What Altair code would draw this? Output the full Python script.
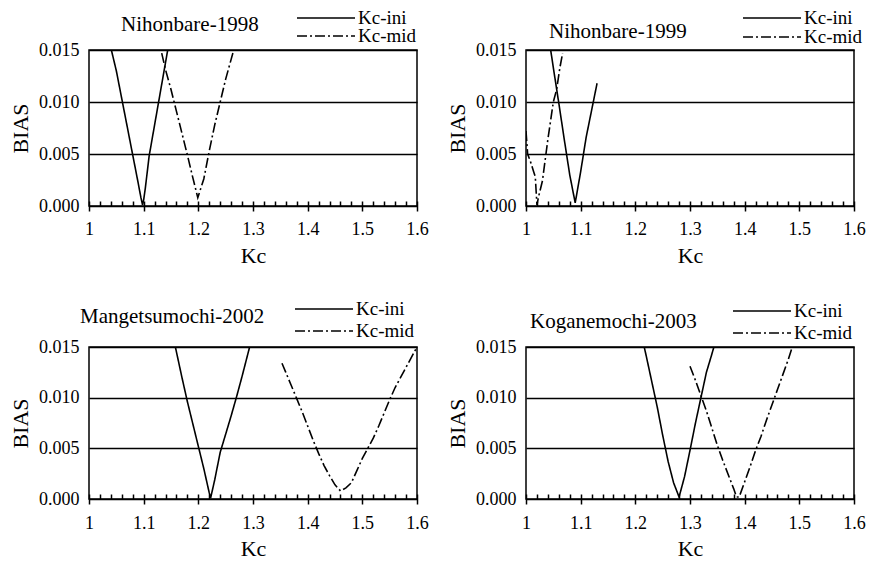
import altair as alt
import pandas as pd

FONT = "Liberation Serif"
W = 328

# ---- axis structure ----
x_label_values = [1.0, 1.1, 1.2, 1.3, 1.4, 1.5, 1.6]
minor_ticks = [1.02, 1.04, 1.06, 1.08, 1.12, 1.14, 1.16, 1.18, 1.22, 1.24, 1.26, 1.28,
               1.32, 1.34, 1.36, 1.38, 1.42, 1.44, 1.46, 1.48, 1.52, 1.54, 1.56, 1.58]
x_tick_values = sorted(x_label_values + minor_ticks)
y_tick_values = [0.0, 0.005, 0.010, 0.015]

series = ["Kc-ini", "Kc-mid"]
dashes = [[1, 0], [10, 3, 2, 3]]
titles = ["Nihonbare-1998", "Nihonbare-1999", "Mangetsumochi-2002", "Koganemochi-2003"]

# ---- Nihonbare-1998 ----
ini_1998_kc = [1.03, 1.04, 1.05, 1.06, 1.07, 1.08, 1.09, 1.095, 1.098, 1.10, 1.103, 1.11, 1.12, 1.13, 1.14, 1.15]
ini_1998_bias = [0.0172, 0.0152, 0.0130, 0.0103, 0.0076, 0.0049, 0.0022, 0.0008, 0.0001, 0.0006, 0.0017, 0.0048, 0.0078, 0.0108, 0.0138, 0.0168]
mid_1998_kc = [1.133, 1.14, 1.15, 1.16, 1.17, 1.18, 1.19, 1.199, 1.21, 1.22, 1.23, 1.24, 1.25, 1.26, 1.27]
mid_1998_bias = [0.0147, 0.0131, 0.0112, 0.0091, 0.0070, 0.0049, 0.0027, 0.0008, 0.0026, 0.0053, 0.0078, 0.0100, 0.0122, 0.0141, 0.0160]

# ---- Nihonbare-1999 ----
ini_1999_kc = [1.04, 1.05, 1.06, 1.07, 1.08, 1.09, 1.10, 1.11, 1.12, 1.13]
ini_1999_bias = [0.0168, 0.0133, 0.0099, 0.0064, 0.0030, 0.0003, 0.0033, 0.0066, 0.0092, 0.0118]
mid_1999_kc = [1.0, 1.003, 1.008, 1.014, 1.017, 1.02, 1.023, 1.03, 1.04, 1.05, 1.056, 1.062, 1.067]
mid_1999_bias = [0.0072, 0.0050, 0.0043, 0.0033, 0.0028, 0.0001, 0.0009, 0.0024, 0.0064, 0.0100, 0.0112, 0.0133, 0.0147]

# ---- Mangetsumochi-2002 ----
ini_2002_kc = [1.15, 1.16, 1.17, 1.18, 1.19, 1.20, 1.21, 1.22, 1.2225, 1.23, 1.24, 1.25, 1.26, 1.27, 1.28, 1.29, 1.30]
ini_2002_bias = [0.0170, 0.0145, 0.0120, 0.0096, 0.0074, 0.0052, 0.0030, 0.0006, 0.0001, 0.0019, 0.0046, 0.0064, 0.0082, 0.0101, 0.0121, 0.0142, 0.0163]
mid_2002_kc = [1.353, 1.36, 1.37, 1.38, 1.39, 1.40, 1.41, 1.42, 1.43, 1.44, 1.45, 1.46, 1.47, 1.48, 1.49,
               1.50, 1.51, 1.52, 1.53, 1.54, 1.55, 1.56, 1.57, 1.58, 1.59, 1.60]
mid_2002_bias = [0.0134, 0.0125, 0.0112, 0.0099, 0.0086, 0.0072, 0.0058, 0.0045, 0.0033, 0.0023, 0.0014, 0.0008, 0.0011, 0.0016, 0.0028,
                 0.0040, 0.0050, 0.0060, 0.0072, 0.0085, 0.0098, 0.0110, 0.0120, 0.0130, 0.0140, 0.0150]

# ---- Koganemochi-2003 ----
ini_2003_kc = [1.21, 1.22, 1.23, 1.24, 1.25, 1.26, 1.27, 1.28, 1.29, 1.30, 1.31, 1.32, 1.33, 1.34, 1.35]
ini_2003_bias = [0.0165, 0.0141, 0.0116, 0.0091, 0.0063, 0.0037, 0.0016, 0.0002, 0.0022, 0.0048, 0.0075, 0.0100, 0.0125, 0.0143, 0.0162]
mid_2003_kc = [1.30, 1.31, 1.32, 1.33, 1.34, 1.35, 1.36, 1.37, 1.38, 1.385, 1.39, 1.40, 1.41, 1.42,
               1.43, 1.44, 1.45, 1.46, 1.47, 1.48, 1.49]
mid_2003_bias = [0.0131, 0.0117, 0.0102, 0.0087, 0.0070, 0.0053, 0.0038, 0.0024, 0.0010, 0.0002, 0.0002, 0.0017, 0.0032, 0.0048,
                 0.0062, 0.0078, 0.0093, 0.0108, 0.0123, 0.0138, 0.0155]

IS_MAJOR = "round(datum.value * 100) % 10 == 0"


def panel(title, ini_kc, ini_bias, mid_kc, mid_bias, H, title_dx, title_dy,
          leg_x, leg_rows, label_pad, title_pad):
    df = pd.DataFrame({
        "Kc": ini_kc + mid_kc,
        "BIAS": ini_bias + mid_bias,
        "series": [series[0]] * len(ini_kc) + [series[1]] * len(mid_kc),
    })
    xs = alt.Scale(domain=[1.0, 1.6], nice=False, zero=False)
    ys = alt.Scale(domain=[0.0, 0.015], nice=False, zero=True)

    # the Kc axis is pulled 5px into the plot, so its ticks point inward from the frame
    x_axis = alt.Axis(
        values=x_tick_values, title="Kc", grid=False, domain=False, offset=-5,
        ticks=True, tickColor="black", tickWidth=1.5,
        tickSize=alt.condition(IS_MAJOR, alt.value(10), alt.value(5)),
        labelExpr=f"({IS_MAJOR}) ? format(datum.value, '~g') : ''",
        labelPadding=label_pad, titlePadding=title_pad, labelFlush=False,
    )

    lines = alt.Chart(df).mark_line(clip=True, color="black", strokeWidth=1.6).encode(
        x=alt.X("Kc:Q", scale=xs, axis=x_axis),
        y=alt.Y("BIAS:Q", scale=ys,
                axis=alt.Axis(values=y_tick_values, format=".3f", title="BIAS", grid=True,
                              gridColor="black", gridWidth=1.5, gridOpacity=1,
                              ticks=False, domain=False, labelPadding=10, titlePadding=6)),
        strokeDash=alt.StrokeDash(
            "series:N",
            scale=alt.Scale(domain=series, range=dashes),
            legend=None,
        ),
    )

    # panel title
    title_layer = alt.Chart(pd.DataFrame({"t": [title]})).mark_text(
        font=FONT, fontSize=21, color="black", align="left", baseline="middle").encode(
        x=alt.value(title_dx), y=alt.value(title_dy), text="t:N")

    # legend key: a short line sample and its label for each series
    legend_layers = []
    for i, name in enumerate(series):
        ly = leg_rows[i]
        one = pd.DataFrame({"series": [name]})
        legend_layers.append(
            alt.Chart(one).mark_rule(color="black", strokeWidth=1.5, strokeDash=dashes[i]).encode(
                x=alt.value(leg_x), x2=alt.value(leg_x + 58), y=alt.value(ly)))
        legend_layers.append(
            alt.Chart(one).mark_text(font=FONT, fontSize=19, color="black", align="left",
                                     baseline="middle").encode(
                x=alt.value(leg_x + 61), y=alt.value(ly), text="series:N"))

    return alt.layer(lines, title_layer, *legend_layers).properties(width=W, height=H)


p1 = panel(titles[0], ini_1998_kc, ini_1998_bias, mid_1998_kc, mid_1998_bias,
           156, 32, -25, 208, [-32, -14], 9, 7)
p2 = panel(titles[1], ini_1999_kc, ini_1999_bias, mid_1999_kc, mid_1999_bias,
           156, 23, -18, 217, [-32, -13], 9, 7)
p3 = panel(titles[2], ini_2002_kc, ini_2002_bias, mid_2002_kc, mid_2002_bias,
           152, -9, -30, 206, [-38, -16], 10, 6)
p4 = panel(titles[3], ini_2003_kc, ini_2003_bias, mid_2003_kc, mid_2003_bias,
           152, 4, -25, 207, [-36, -14], 10, 6)

chart = alt.vconcat(
    alt.hconcat(p1, p2, spacing=16),
    alt.hconcat(p3, p4, spacing=16),
    spacing=32,
).properties(
    background="white",
    padding={"left": 0, "top": 0, "right": 0, "bottom": 0},
).configure_view(
    stroke="black", strokeWidth=1.5
).configure_axis(
    labelFont=FONT, labelFontSize=18, labelColor="black",
    titleFont=FONT, titleFontSize=22, titleFontWeight="normal", titleColor="black",
)

chart.save("out.html", embed_options={"renderer": "svg", "actions": False})
